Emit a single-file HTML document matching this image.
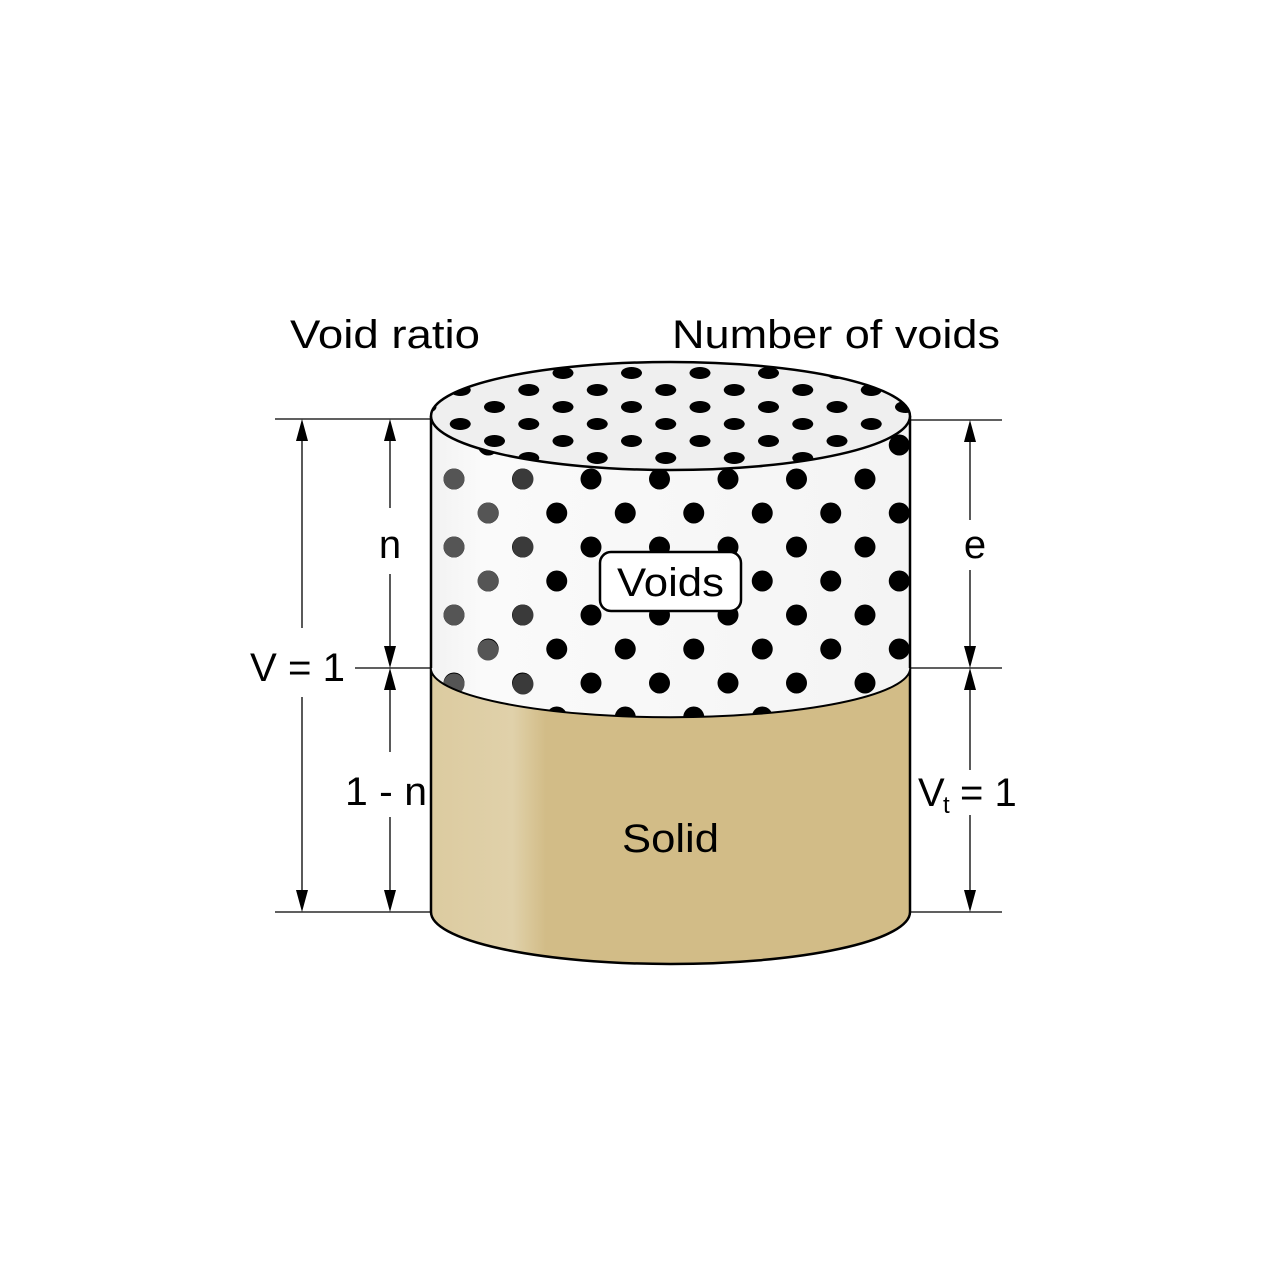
<!DOCTYPE html>
<html><head><meta charset="utf-8"><style>html,body{margin:0;padding:0;background:#fff}svg{display:block}text{font-family:"Liberation Sans",sans-serif;fill:#000}</style></head>
<body>
<svg width="1280" height="1280" viewBox="0 0 1280 1280" xmlns="http://www.w3.org/2000/svg">
<defs>
<pattern id="side" patternUnits="userSpaceOnUse" x="454" y="479" width="68.5" height="68">
<circle cx="0" cy="0" r="10.5"/><circle cx="68.5" cy="0" r="10.5"/><circle cx="0" cy="68" r="10.5"/><circle cx="68.5" cy="68" r="10.5"/><circle cx="34.25" cy="34" r="10.5"/>
</pattern>
<pattern id="top" patternUnits="userSpaceOnUse" x="563" y="373" width="68.5" height="34">
<ellipse cx="0" cy="0" rx="10.5" ry="6"/><ellipse cx="68.5" cy="0" rx="10.5" ry="6"/><ellipse cx="0" cy="34" rx="10.5" ry="6"/><ellipse cx="68.5" cy="34" rx="10.5" ry="6"/><ellipse cx="34.25" cy="17" rx="10.5" ry="6"/>
</pattern>
<linearGradient id="sol" x1="431" x2="910" gradientUnits="userSpaceOnUse">
<stop offset="0" stop-color="#dccba0"/><stop offset="0.17" stop-color="#e0d1aa"/><stop offset="0.24" stop-color="#d2bc87"/><stop offset="1" stop-color="#d2bc87"/>
</linearGradient>
<linearGradient id="vs" x1="431" x2="910" gradientUnits="userSpaceOnUse">
<stop offset="0" stop-color="#f2f2f2"/><stop offset="0.1" stop-color="#fafafa"/><stop offset="1" stop-color="#f4f4f4"/>
</linearGradient>
<clipPath id="sideclip"><path d="M431 416 L910 416 L910 668 A239.5 49 0 0 1 431 668 Z"/></clipPath>
<clipPath id="topclip"><ellipse cx="670.5" cy="416" rx="239.5" ry="54"/></clipPath>
</defs>
<path d="M431 668 A239.5 49 0 0 0 910 668 L910 912 A239.5 52 0 0 1 431 912 Z" fill="url(#sol)" stroke="#000" stroke-width="2.5"/>
<path d="M431 416 L910 416 L910 668 A239.5 49 0 0 1 431 668 Z" fill="url(#vs)"/>
<g clip-path="url(#sideclip)">
<rect x="431" y="416" width="479" height="320" fill="url(#side)"/>
<g fill="#555">
<circle cx="454" cy="479" r="10.5"/><circle cx="454" cy="547" r="10.5"/><circle cx="454" cy="615" r="10.5"/><circle cx="454" cy="684" r="10.5"/>
<circle cx="488" cy="513" r="10.5"/><circle cx="488" cy="581" r="10.5"/><circle cx="488" cy="650" r="10.5"/>
</g>
<g fill="#3a3a3a">
<circle cx="523" cy="479" r="10.5"/><circle cx="523" cy="547" r="10.5"/><circle cx="523" cy="615" r="10.5"/><circle cx="523" cy="684" r="10.5"/>
</g>
</g>
<path d="M431 416 L431 668 M910 416 L910 668" stroke="#000" stroke-width="2.5"/>
<path d="M431 668 A239.5 49 0 0 0 910 668" fill="none" stroke="#000" stroke-width="1.5"/>
<ellipse cx="670.5" cy="416" rx="239.5" ry="54" fill="#efefef"/>
<g clip-path="url(#topclip)"><rect x="431" y="360" width="479" height="115" fill="url(#top)"/></g>
<ellipse cx="670.5" cy="416" rx="239.5" ry="54" fill="none" stroke="#000" stroke-width="2.5"/>
<rect x="600" y="552" width="141" height="59" rx="11" fill="#fff" stroke="#000" stroke-width="2.5"/>
<text x="617" y="596" font-size="40" textLength="107" lengthAdjust="spacingAndGlyphs">Voids</text>
<text x="622" y="852" font-size="40" textLength="97" lengthAdjust="spacingAndGlyphs">Solid</text>
<g stroke="#000" stroke-width="1.3" fill="none">
<path d="M275 419 H431 M355 668 H431 M275 912 H431 M910 420 H1002 M910 668 H1002 M910 912 H1002"/>
<path d="M302 430 V628 M302 697 V901"/>
<path d="M390 430 V508 M390 574 V657 M390 679 V752 M390 817 V901"/>
<path d="M970 431 V520 M970 570 V657 M970 679 V770 M970 815 V901"/>
</g>
<g fill="#000">
<path d="M302 419 l-6 22 h12 z M302 912 l-6 -22 h12 z"/>
<path d="M390 419 l-6 22 h12 z M390 668 l-6 -22 h12 z M390 668 l-6 22 h12 z M390 912 l-6 -22 h12 z"/>
<path d="M970 420 l-6 22 h12 z M970 668 l-6 -22 h12 z M970 668 l-6 22 h12 z M970 912 l-6 -22 h12 z"/>
</g>
<g font-size="40">
<text x="290" y="348" textLength="190" lengthAdjust="spacingAndGlyphs">Void ratio</text>
<text x="672" y="348" textLength="328" lengthAdjust="spacingAndGlyphs">Number of voids</text>
<text x="390" y="558" text-anchor="middle">n</text>
<text x="975" y="558" text-anchor="middle">e</text>
<text x="250" y="681" textLength="95" lengthAdjust="spacingAndGlyphs">V = 1</text>
<text x="345" y="805" textLength="82" lengthAdjust="spacingAndGlyphs">1 - n</text>
<text x="918" y="806">V</text>
<text x="943" y="813" font-size="24">t</text>
<text x="960" y="806">= 1</text>
</g>
</svg>
</body></html>
